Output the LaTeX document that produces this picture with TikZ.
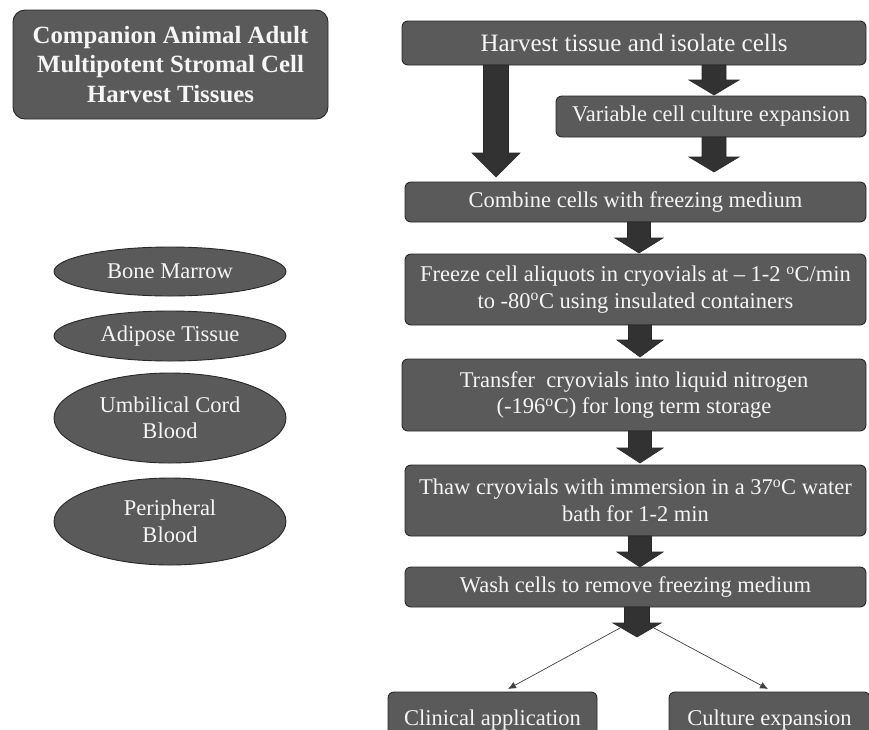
\documentclass[tikz,border=0pt]{standalone}
\usepackage{fontspec}
\setmainfont{Liberation Serif}
\usetikzlibrary{shapes.geometric,arrows.meta}
\definecolor{boxgray}{RGB}{90,90,90}
\definecolor{arrowgray}{RGB}{50,50,50}
\definecolor{edgegray}{RGB}{40,40,40}
\definecolor{txtwhite}{RGB}{245,245,245}
\newcommand{\blockarrow}[6]{%
  \fill[arrowgray,draw=arrowgray!80!black,line width=0.6pt]
    ({#1-#5},#2) -- ({#1+#5},#2) -- ({#1+#5},#3) -- ({#1+#6},#3) --
    (#1,#4) -- ({#1-#6},#3) -- ({#1-#5},#3) -- cycle;}
\tikzset{
  flowbox/.style={draw=edgegray,line width=0.9pt,fill=boxgray,rounded corners=6pt,
    text=txtwhite,align=center,inner sep=0pt,anchor=center,
    font=\fontsize{22.5}{26.5}\selectfont},
  srcell/.style={ellipse,draw=edgegray,line width=0.9pt,fill=boxgray,text=txtwhite,
    align=center,inner sep=0pt,minimum width=232pt,
    font=\fontsize{22.5}{26.5}\selectfont},
  titlebox/.style={draw=edgegray,line width=0.9pt,fill=boxgray,rounded corners=12pt,
    text=txtwhite,align=center,inner sep=0pt,
    font=\fontsize{24.8}{29.5}\selectfont\bfseries},
  thinarrow/.style={draw=black!75,line width=0.7pt,-{Latex[length=8pt,width=7pt]}}
}
\begin{document}
\begin{tikzpicture}[x=1pt,y=-1pt]
\useasboundingbox (0,0) rectangle (869,729);
\clip (0,0) rectangle (869,729);
% title
\node[titlebox,minimum width=315pt,minimum height=109pt] (title) at (170.5,64.5)
  {Companion Animal Adult\\Multipotent Stromal Cell\\Harvest Tissues};
% source tissues
\node[srcell,minimum height=49pt] (bm) at (170,271.5) {Bone Marrow};
\node[srcell,minimum height=50pt] (at) at (170,336) {Adipose Tissue};
\node[srcell,minimum height=90pt] (ucb) at (170,418) {Umbilical Cord\\Blood};
\node[srcell,minimum height=87pt] (pb) at (170,521.5) {Peripheral\\Blood};
% flow boxes
\node[flowbox,minimum width=464pt,minimum height=44pt,font=\fontsize{25}{29}\selectfont] (harvest) at (634,43)
  {Harvest tissue and isolate cells};
\node[flowbox,minimum width=310pt,minimum height=41pt] (variable) at (711,116.5)
  {Variable cell culture expansion};
\node[flowbox,minimum width=461pt,minimum height=40pt] (combine) at (635.5,202)
  {Combine cells with freezing medium};
\node[flowbox,minimum width=461pt,minimum height=71pt] (freeze) at (635.5,289.5)
  {Freeze cell aliquots in cryovials at -- 1-2 \textsuperscript{o}C/min\\to -80\textsuperscript{o}C using insulated containers};
\node[flowbox,minimum width=464pt,minimum height=72pt] (transfer) at (634,395)
  {Transfer\ \ cryovials into liquid nitrogen\\(-196\textsuperscript{o}C) for long term storage};
\node[flowbox,minimum width=461pt,minimum height=71pt] (thaw) at (635.5,500.5)
  {Thaw cryovials with immersion in a 37\textsuperscript{o}C water\\bath for 1-2 min};
\node[flowbox,minimum width=461pt,minimum height=40pt] (wash) at (635.5,587)
  {Wash cells to remove freezing medium};
\node[flowbox,minimum width=209pt,minimum height=56pt] (clinical) at (492.5,720)
  {Clinical application};
\node[flowbox,minimum width=201pt,minimum height=56pt] (culture) at (769.5,720)
  {Culture expansion};
% block arrows
\blockarrow{496}{65}{153}{177}{12.5}{24}
\blockarrow{714}{65}{80}{95}{12}{25}
\blockarrow{714}{137}{157}{172}{12}{25}
\blockarrow{639}{222}{238}{253}{11.5}{24}
\blockarrow{640}{325}{340}{357}{11.5}{23}
\blockarrow{640}{431}{448}{463}{11.5}{23}
\blockarrow{640}{536}{552}{567}{11.5}{23}
\blockarrow{637}{607}{623}{637}{12.5}{24}
% thin branching arrows
\coordinate (splitL) at (620,628);
\coordinate (splitR) at (654,628);
\coordinate (tipL) at (508,689);
\coordinate (tipR) at (768,689);
\draw[thinarrow] (splitL) -- (tipL);
\draw[thinarrow] (splitR) -- (tipR);
\end{tikzpicture}
\end{document}
